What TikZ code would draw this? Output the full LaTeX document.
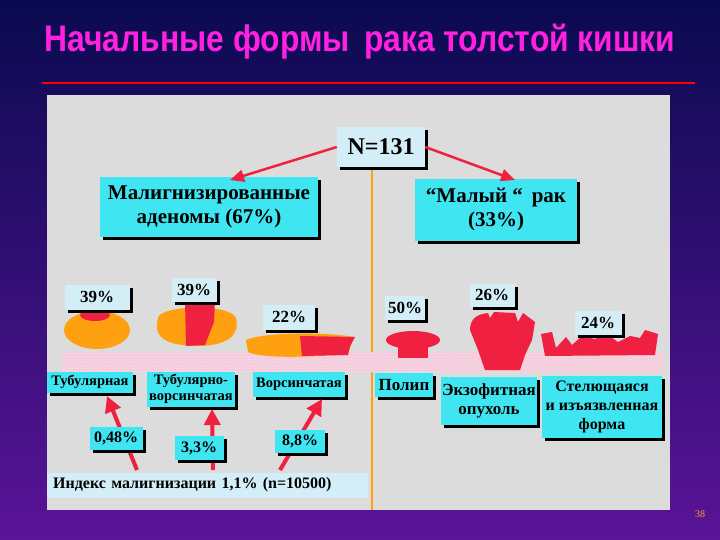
\documentclass[tikz,border=0pt]{standalone}
\usepackage{fontspec}
\setmainfont{Liberation Serif}
\newfontfamily\titlefont{Liberation Sans}
\usetikzlibrary{shadows,arrows.meta,patterns}
\definecolor{bgtop}{HTML}{0A0A50}
\definecolor{bgbot}{HTML}{5A1498}
\definecolor{panel}{HTML}{DCDCDC}
\definecolor{cyanbox}{HTML}{3FE6F2}
\definecolor{lightbox}{HTML}{D4EEF8}
\definecolor{tumred}{HTML}{F02040}
\definecolor{tumor}{HTML}{FFA010}
\definecolor{mucosa}{HTML}{F4CCDC}
\definecolor{titlemag}{HTML}{FF20E0}
\tikzset{
  sh/.style={drop shadow={shadow xshift=3pt,shadow yshift=-3pt,fill=black,opacity=1}},
  bigbox/.style={fill=cyanbox,sh,font=\bfseries\fontsize{21}{24}\selectfont,align=center,inner sep=2pt},
  lblbox/.style={fill=cyanbox,sh,font=\bfseries\fontsize{14.5}{16}\selectfont,align=center,inner sep=1pt},
  pctbox/.style={fill=lightbox,sh,font=\bfseries\fontsize{17}{18}\selectfont,inner sep=1pt},
  idxbox/.style={fill=cyanbox,sh,font=\bfseries\fontsize{16}{17}\selectfont,inner sep=1pt},
  redarrow/.style={draw=tumred,line width=4pt,-{Triangle[length=16pt,width=16pt]}},
  thinarrow/.style={draw=tumred,line width=2.5pt,-{Triangle[length=14pt,width=12pt]}}
}
\begin{document}
\begin{tikzpicture}[x=1pt,y=-1pt]
\useasboundingbox (0,0) rectangle (720,540);
\shade[top color=bgtop,bottom color=bgbot] (0,0) rectangle (720,540);
\node[font=\titlefont\bfseries\fontsize{37}{39}\selectfont,text=titlemag,xscale=0.86] (title) at (360,42) {Начальные формы\, рака толстой кишки};
\draw[red,line width=2pt] (42,83) -- (695,83);
\fill[panel] (47,95) rectangle (670,510);
\draw[tumor,line width=2.5pt] (372,165) -- (372,510);
\fill[mucosa] (62,352) rectangle (663,372);
\fill[pattern=dots,pattern color=white] (62,352) rectangle (663,372);
\fill[tumor] (97,330) ellipse (33 and 19);
\fill[tumred] (95,315) ellipse (15 and 6);
\fill[tumor] (158,318) .. controls (160,305) and (230,303) .. (236,318) .. controls (240,335) and (228,345) .. (200,346) .. controls (170,346) and (152,340) .. (158,318) -- cycle;
\fill[tumred] (185,300) -- (215,300) -- (214,322) -- (205,345) -- (186,346) -- cycle;
\fill[tumor] (246,340) .. controls (260,333) and (320,331) .. (354,337) -- (348,354) .. controls (300,358) and (260,358) .. (248,352) -- cycle;
\fill[tumred] (300,336) -- (355,337) -- (350,346) -- (348,355) -- (302,356) -- cycle;
\fill[tumred] (398,345) rectangle (428,358);
\fill[tumred] (413,340) ellipse (27 and 9);
\fill[tumred] (470,330) .. controls (470,318) and (478,314) .. (488,313) -- (490,318) -- (494,312) -- (515,313) -- (518,322) -- (523,313) -- (535,322) -- (532,340) -- (525,355) -- (520,370) -- (485,370) -- (478,350) -- cycle;
\fill[tumred] (541,334) -- (552,332) -- (556,348) -- (566,337) -- (572,345) -- (582,336) -- (595,339) -- (605,333) -- (618,342) -- (630,336) -- (640,338) -- (645,330) -- (658,334) -- (655,355) -- (545,356) -- cycle;
\node[fill=lightbox,sh,font=\bfseries\fontsize{24}{26}\selectfont,minimum width=88pt,minimum height=40pt,inner sep=1pt] (n) at (381,147) {N=131};
\node[bigbox,minimum width=218pt,minimum height=59pt] (mal) at (209,207) {Малигнизированные\\аденомы (67\%)};
\node[bigbox,minimum width=162pt,minimum height=61pt] (small) at (496,210) {“Малый “\, рак\\(33\%)};
\draw[thinarrow] (n.west) -- (230,180);
\draw[thinarrow] (n.east) -- (515,180);
\node[pctbox,minimum width=65pt,minimum height=25pt] (p1) at (97,297) {39\%};
\node[pctbox,minimum width=45pt,minimum height=24pt] (p2) at (194,290) {39\%};
\node[pctbox,minimum width=52pt,minimum height=25pt] (p3) at (289,317) {22\%};
\node[pctbox,minimum width=40pt,minimum height=24pt] (p4) at (405,308) {50\%};
\node[pctbox,minimum width=45pt,minimum height=23pt] (p5) at (492,295) {26\%};
\node[pctbox,minimum width=47pt,minimum height=24pt] (p6) at (598,323) {24\%};
\node[lblbox,minimum width=86pt,minimum height=21pt] (t1) at (90,382) {Тубулярная};
\node[lblbox,minimum width=88pt,minimum height=35pt] (t2) at (191,389) {Тубулярно-\\ворсинчатая};
\node[lblbox,minimum width=92pt,minimum height=25pt] (t3) at (299,384) {Ворсинчатая};
\node[lblbox,font=\bfseries\fontsize{17}{19}\selectfont,minimum width=58pt,minimum height=24pt] (t4) at (404,385) {Полип};
\node[lblbox,font=\bfseries\fontsize{17}{19}\selectfont,minimum width=96pt,minimum height=48pt] (t5) at (489,401) {Экзофитная\\опухоль};
\node[lblbox,font=\bfseries\fontsize{16}{19}\selectfont,minimum width=120pt,minimum height=62pt] (t6) at (602,407) {Стелющаяся\\и изъязвленная\\форма};
\node[fill=lightbox,font=\bfseries\fontsize{16}{18}\selectfont,text width=309pt,minimum height=25pt,anchor=west,inner xsep=6pt,align=left] (idx) at (47,485) {Индекс малигнизации 1,1\% (n=10500)};
\coordinate (a1) at (137,470);
\coordinate (a2) at (213,470);
\coordinate (a3) at (280,470);
\draw[redarrow] (a1) -- (107,396);
\draw[redarrow] (a2) -- (212,409);
\draw[redarrow] (a3) -- (322,399);
\node[idxbox,minimum width=53pt,minimum height=23pt] (m1) at (116,438) {0,48\%};
\node[idxbox,minimum width=49pt,minimum height=24pt] (m2) at (199,448) {3,3\%};
\node[idxbox,minimum width=50pt,minimum height=23pt] (m3) at (300,441) {8,8\%};
\node[font=\fontsize{10}{11}\selectfont,text=tumor] (pg) at (700,514) {38};
\end{tikzpicture}
\end{document}
